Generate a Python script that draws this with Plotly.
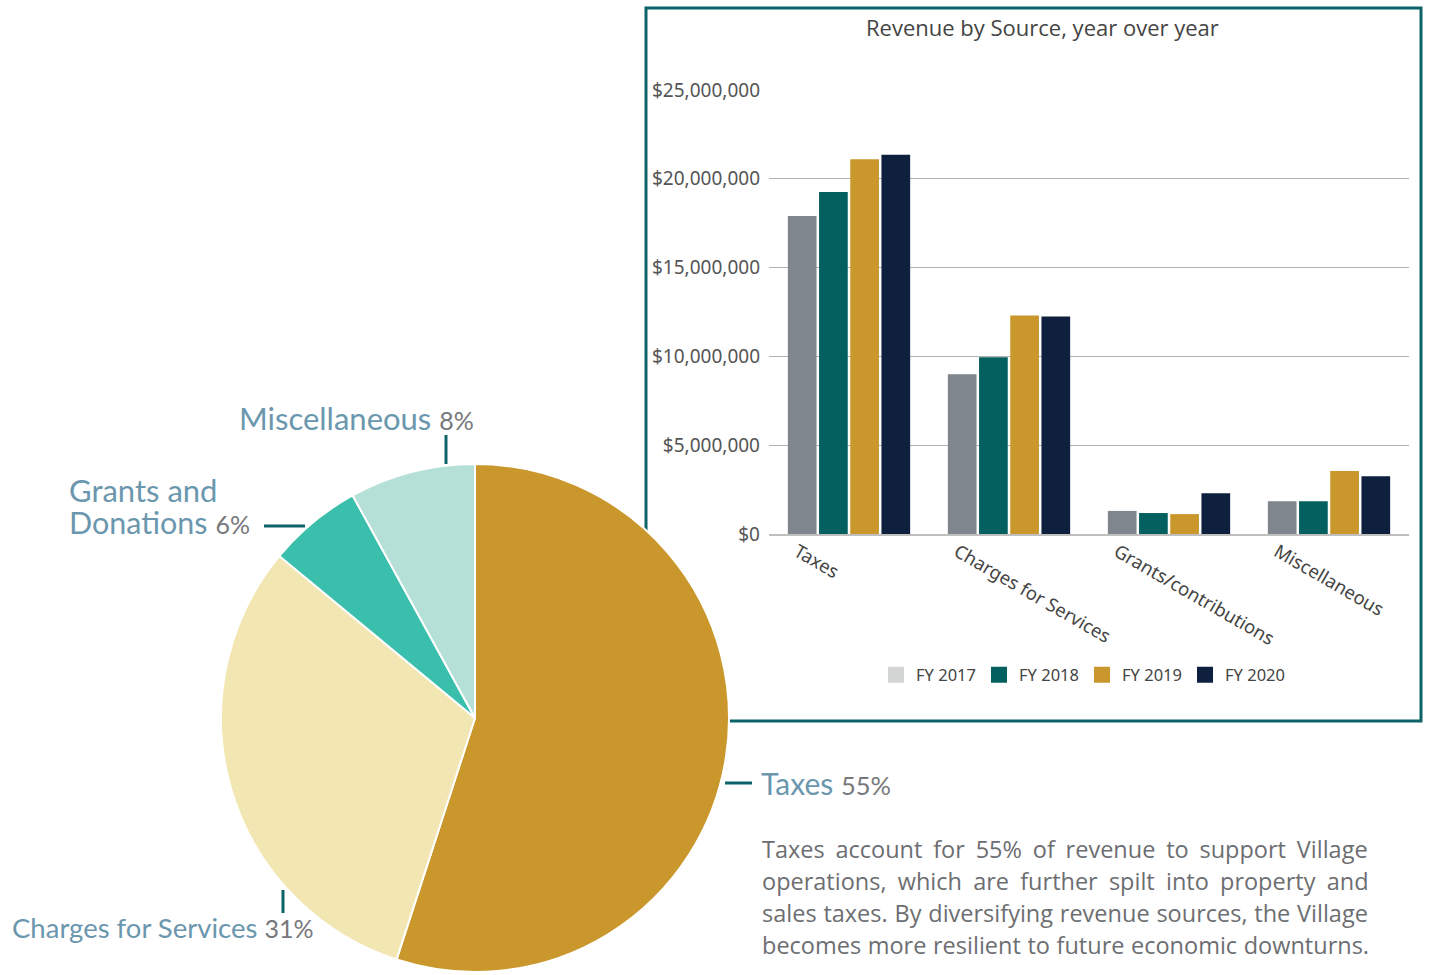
import plotly.graph_objects as go

W, H = 1430, 975

# ---------------- data ----------------
categories = ["Taxes", "Charges for Services", "Grants/contributions", "Miscellaneous"]
years = ["FY 2017", "FY 2018", "FY 2019", "FY 2020"]
fy2017 = [17.9e6, 9.0e6, 1.3e6, 1.85e6]
fy2018 = [19.25e6, 9.95e6, 1.18e6, 1.85e6]
fy2019 = [21.1e6, 12.3e6, 1.12e6, 3.55e6]
fy2020 = [21.35e6, 12.25e6, 2.3e6, 3.25e6]
y_ticks = [0, 5e6, 10e6, 15e6, 20e6, 25e6]

pie_labels = ["Taxes", "Charges for Services", "Grants and Donations", "Miscellaneous"]
pie_shares = [55, 31, 6, 8]

paragraph = [
    "Taxes account for 55% of revenue to support Village",
    "operations, which are further spilt into property and",
    "sales taxes. By diversifying revenue sources, the Village",
    "becomes more resilient to future economic downturns.",
]

# ---------------- styles ----------------
bar_colors = ["#7f868d", "#03605f", "#c9972b", "#0e203d"]
legend_colors = ["#d3d4d4", "#03605f", "#c9972b", "#0e203d"]
pie_colors = ["#c9972b", "#f2e6b3", "#3bbfad", "#b5e0d8"]
teal = "#0d6468"
label_blue = "#6b97ae"
pct_gray = "#77787b"
para_gray = "#6d6e71"
humanist = "Lato, Open Sans, sans-serif"
axis_font = "Noto Sans, Open Sans, sans-serif"
para_word_spacing = [4.7, 5.1, 0.7, 0.5]   # px, to justify the paragraph lines


def px(x):
    return x / W


def py(y):
    return 1 - y / H


fig = go.Figure()

# legend swatches (square, like the reference legend)
for name, col in zip(years, legend_colors):
    fig.add_trace(go.Scatter(x=[None], y=[None], name=name, mode="markers",
                             marker=dict(symbol="square", size=16, color=col),
                             xaxis="x2", yaxis="y2", showlegend=True))

series = [fy2017, fy2018, fy2019, fy2020]
for i, (name, vals) in enumerate(zip(years, series)):
    fig.add_trace(go.Bar(x=categories, y=vals, name=name, marker_color=bar_colors[i],
                         marker_line_width=0, showlegend=False,
                         xaxis="x", yaxis="y"))

fig.add_trace(go.Pie(
    labels=pie_labels, values=pie_shares, sort=False, direction="clockwise",
    rotation=0, marker=dict(colors=pie_colors, line=dict(color="white", width=2)),
    textinfo="none", showlegend=False,
    domain=dict(x=[px(221), px(729)], y=[py(972), py(464)]),
))

shapes = [
    dict(type="rect", xref="paper", yref="paper", x0=px(646), x1=px(1421), y0=py(721), y1=py(8),
         line=dict(color=teal, width=3), fillcolor="white", layer="below"),
    dict(type="line", xref="paper", yref="paper", x0=px(446), x1=px(446), y0=py(435), y1=py(464),
         line=dict(color=teal, width=3)),
    dict(type="line", xref="paper", yref="paper", x0=px(264), x1=px(305), y0=py(526), y1=py(526),
         line=dict(color=teal, width=3)),
    dict(type="line", xref="paper", yref="paper", x0=px(283), x1=px(283), y0=py(890), y1=py(913),
         line=dict(color=teal, width=3)),
    dict(type="line", xref="paper", yref="paper", x0=px(725), x1=px(752), y0=py(783), y1=py(783),
         line=dict(color=teal, width=3)),
]


def label(name, pct, size):
    s = f"<span style='color:{label_blue}'>{name}</span>"
    if pct:
        s += f" <span style='color:{pct_gray};font-size:{size}px'>{pct}</span>"
    return s


annotations = [
    dict(text="Revenue by Source, year over year", x=px(1042), y=py(27), xanchor="center",
         yanchor="middle", font=dict(family="Open Sans, sans-serif", size=22, color="#444444")),
]
pie_annots = [
    (label("Miscellaneous", "8%", 25), 237, 418, 31),
    (label("Grants and", "", 25), 67, 490, 31),
    (label("Donations", "6%", 25), 67, 522, 30.5),
    (label("Charges for Services", "31%", 25), 10, 927, 27.5),
    (label("Taxes", "55%", 25.5), 759, 783, 30),
]
for text, x, y, size in pie_annots:
    annotations.append(dict(text=text, x=px(x), y=py(y), xanchor="left", yanchor="middle",
                            font=dict(family=humanist, size=size)))

for k, line in enumerate(paragraph):
    annotations.append(dict(text=f"<span style='word-spacing:{para_word_spacing[k]}px'>{line}</span>",
                            x=px(760), y=py(849 + 32 * k), xanchor="left", yanchor="middle",
                            font=dict(family="Open Sans, sans-serif", size=23.5, color=para_gray)))

for a in annotations:
    a.update(xref="paper", yref="paper", showarrow=False)

fig.update_layout(
    width=W, height=H,
    margin=dict(l=0, r=0, t=0, b=0),
    paper_bgcolor="white", plot_bgcolor="rgba(0,0,0,0)",
    barmode="group", bargap=0.22, bargroupgap=0.08,
    shapes=shapes, annotations=annotations,
    xaxis=dict(domain=[px(769), px(1409)], anchor="y", type="category",
               tickangle=30, ticks="", showline=True, linecolor="#bfbfbf", linewidth=2,
               tickfont=dict(family=axis_font, size=18.5, color="#444444"),
               ticklabelshift=-52, ticklabelstandoff=-2,
               automargin=False, showgrid=False, fixedrange=True),
    yaxis=dict(domain=[py(534), py(90)], anchor="x", range=[0, 25e6], tickvals=y_ticks,
               tickformat="$,.0f", showgrid=True, gridcolor="#b3b3b3", gridwidth=1,
               zeroline=False, ticks="", ticklabelstandoff=8,
               tickfont=dict(family=axis_font, size=19, color="#555555"),
               automargin=False, fixedrange=True),
    xaxis2=dict(domain=[0, 0.001], anchor="y2", visible=False),
    yaxis2=dict(domain=[0, 0.001], anchor="x2", visible=False),
    legend=dict(orientation="h", x=px(1082), xanchor="center", y=py(675), yanchor="middle",
                font=dict(family=axis_font, size=16.5, color="#444444"), bgcolor="rgba(0,0,0,0)",
                traceorder="normal", itemwidth=30, itemsizing="trace",
                entrywidth=58, entrywidthmode="pixels"),
)

fig.write_html("out.html")
